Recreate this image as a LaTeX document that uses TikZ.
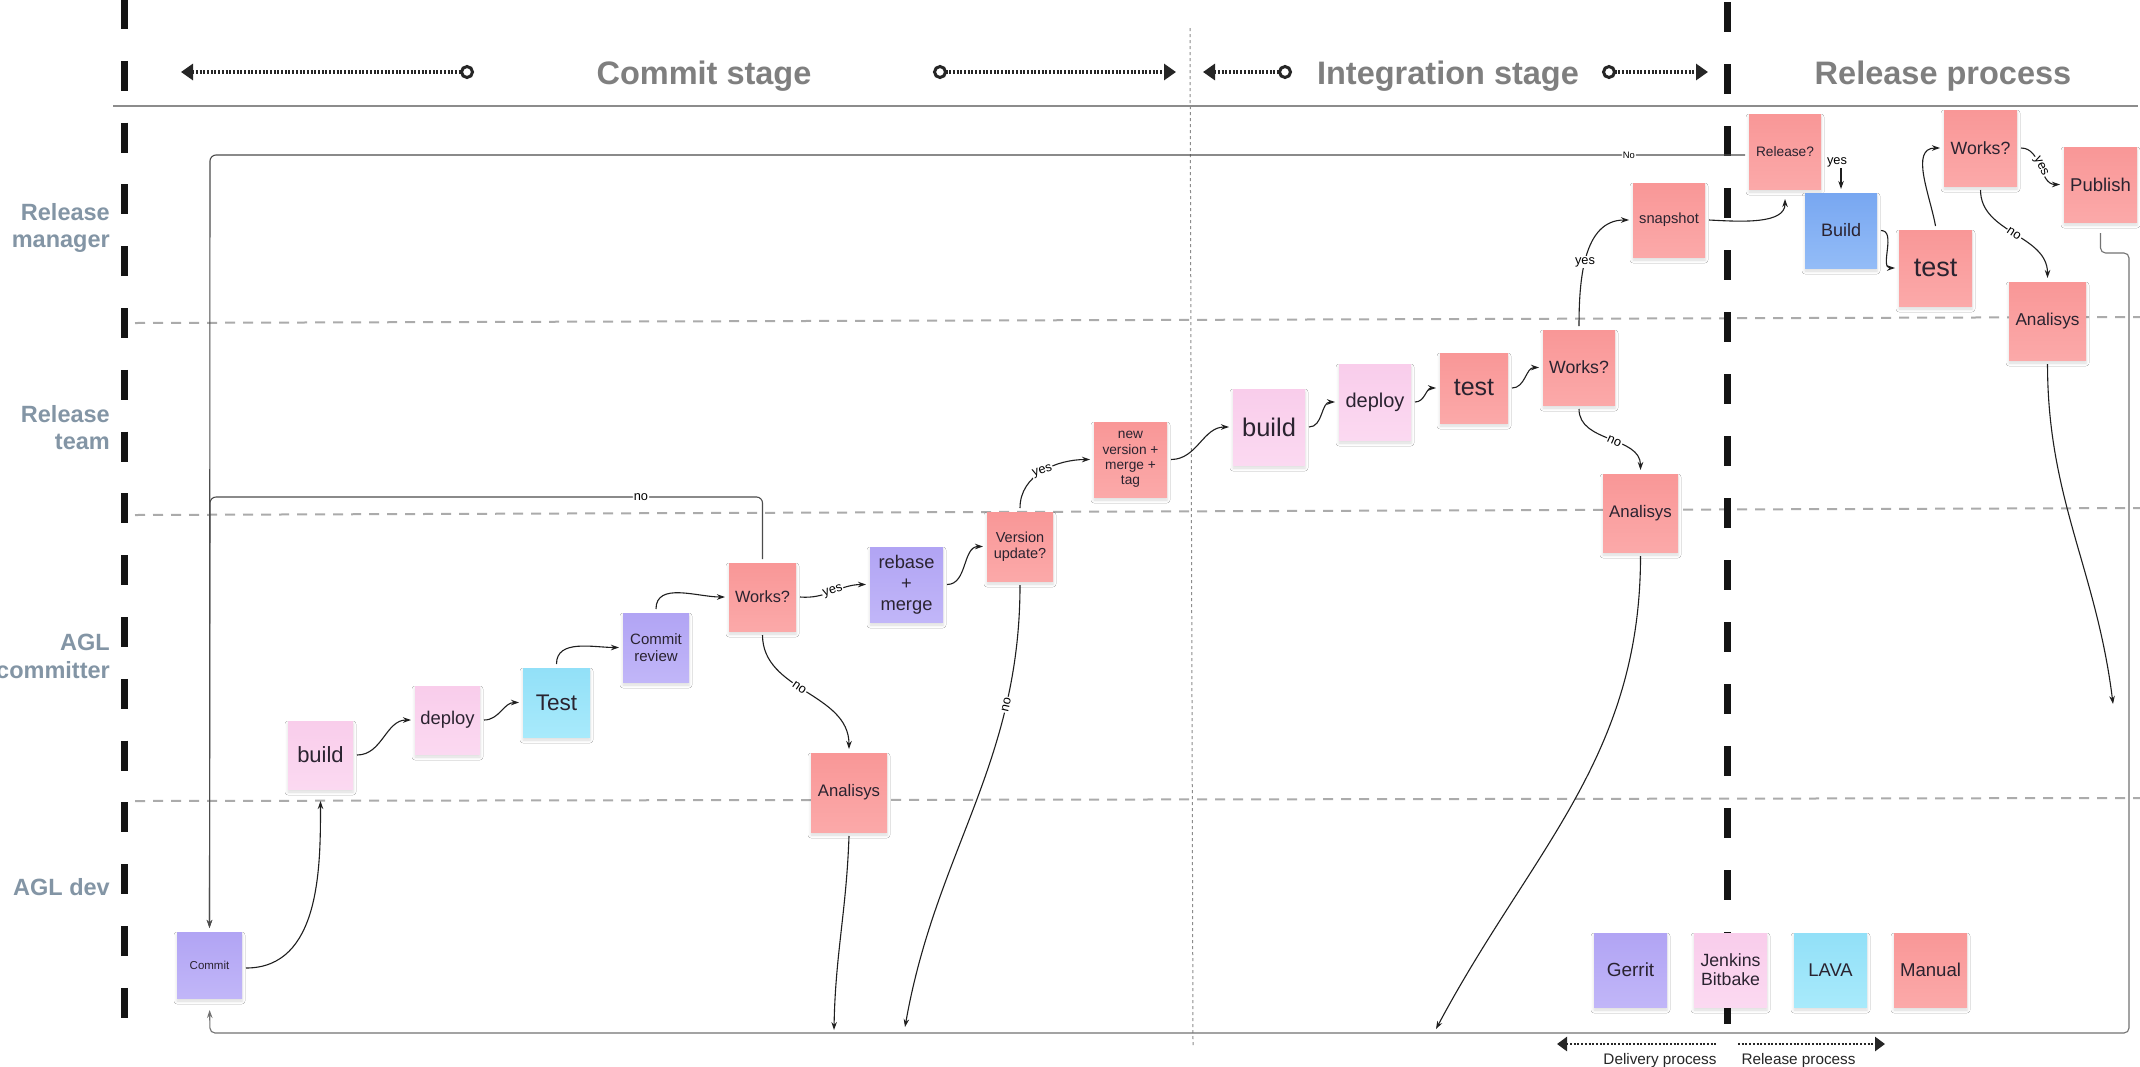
\documentclass[tikz,border=0pt]{standalone}
\usepackage{fontspec}
\setmainfont{Liberation Sans}
\usetikzlibrary{arrows.meta, shadows.blur, calc}

\definecolor{salmonT}{HTML}{F99797}
\definecolor{salmonB}{HTML}{FBA9A9}
\definecolor{pinkT}{HTML}{F9CDEB}
\definecolor{pinkB}{HTML}{FBD9F1}
\definecolor{lavT}{HTML}{B1A4F4}
\definecolor{lavB}{HTML}{C1B6F8}
\definecolor{cyanT}{HTML}{92E0F8}
\definecolor{cyanB}{HTML}{A8EAFB}
\definecolor{blueT}{HTML}{78A7F1}
\definecolor{blueB}{HTML}{93BCF7}
\definecolor{hdr}{HTML}{7F7F7F}
\definecolor{lanecol}{HTML}{8395A5}
\definecolor{ink}{HTML}{2A2330}

\begin{document}
\begin{tikzpicture}[x=1pt, y=-1pt,
  note/.style={rectangle, inner sep=1pt, outer sep=4pt, align=center, text=ink,
    blur shadow={shadow xshift=0pt, shadow yshift=-3pt, shadow blur radius=3pt, shadow opacity=14}},
  salmonbox/.style={note, top color=salmonT, bottom color=salmonB},
  pinkbox/.style={note, top color=pinkT, bottom color=pinkB},
  lavbox/.style={note, top color=lavT, bottom color=lavB},
  cyanbox/.style={note, top color=cyanT, bottom color=cyanB},
  bluebox/.style={note, top color=blueT, bottom color=blueB},
  sz/.style 2 args={minimum width=#1pt, minimum height=#2pt},
  fs/.style 2 args={font=\fontsize{#1}{#2}\selectfont},
  tip/.style={-{Stealth[length=8pt, width=5.5pt]}},
  conn/.style={draw=black!88, line width=1.1pt, tip},
  loopline/.style={draw=black!70, line width=1.1pt, tip, rounded corners=6pt},
  retline/.style={draw=black!55, line width=1.1pt, tip, rounded corners=5pt},
  lbl/.style={fill=white, inner sep=1pt, text=black, font=\fontsize{12.8}{13}\selectfont},
  hdrtext/.style={text=hdr, font=\fontsize{32.5}{36}\selectfont\bfseries, inner sep=0pt},
  lanetext/.style={text=lanecol, font=\fontsize{23.5}{27.5}\selectfont\bfseries, align=right, inner sep=0pt, anchor=north east},
  hdrarrow/.style={draw=black!85, line width=3.2pt, dash pattern=on 2pt off 1.7pt},
  headring/.style={arrows={Triangle[length=12pt, width=16pt]-Circle[open, length=14pt, width=14pt, line width=3pt]}},
  ringhead/.style={arrows={Circle[open, length=14pt, width=14pt, line width=3pt]-Triangle[length=12pt, width=16pt]}},
  laneline/.style={draw=black!33, line width=2pt, dash pattern=on 10pt off 8pt},
  lanewall/.style={draw=black!92, line width=7pt},
  divider/.style={draw=black!45, line width=1pt, dash pattern=on 3pt off 3pt}
]
\useasboundingbox (0,0) rectangle (2140,1066);
\fill[white] (0,0) rectangle (2140,1066);

% ---------- frame: lanes, stage dividers, header rule ----------
\draw[laneline] (135,323) -- (2140,317);
\draw[laneline] (135,515) -- (2140,508);
\draw[laneline] (135,801) -- (2140,798);
\draw[divider] (1190,28) -- (1193,1045);
\draw[line width=2pt, draw=black!45] (113,106) -- (2138,106);
\draw[lanewall, dash pattern=on 30pt off 31.8pt] (124,-1) -- (124,1021);
\draw[lanewall, dash pattern=on 30pt off 32pt] (1727,2) -- (1727,1025);

% ---------- header ----------
\node[hdrtext, anchor=base] (hCommit) at (704,84) {Commit stage};
\node[hdrtext, anchor=base] (hInteg) at (1448,84) {Integration stage};
\node[hdrtext, anchor=base] (hRelease) at (1943,84) {Release process};

\coordinate (cL1) at (181,72);  \coordinate (cL2) at (474,72);
\coordinate (cR1) at (933,72);  \coordinate (cR2) at (1176,72);
\coordinate (iL1) at (1203,72); \coordinate (iL2) at (1292,72);
\coordinate (iR1) at (1602,72); \coordinate (iR2) at (1708,72);
\draw[hdrarrow, headring] (cL1) -- (cL2);
\draw[hdrarrow, ringhead] (cR1) -- (cR2);
\draw[hdrarrow, headring] (iL1) -- (iL2);
\draw[hdrarrow, ringhead] (iR1) -- (iR2);

% ---------- lane labels ----------
\node[lanetext] (lRM) at (110,203) {Release\\manager};
\node[lanetext] (lRT) at (110,405) {Release\\team};
\node[lanetext] (lAC) at (110,634) {AGL\\committer};
\node[lanetext] (lAD) at (110,878) {AGL dev};

% ---------- commit stage ----------
\node[lavbox, sz={65}{66}, fs={11.5}{13}] (commit) at (209.5,965) {Commit};
\node[pinkbox, sz={65}{68}, fs={22}{24}] (build1) at (320.5,755) {build};
\node[pinkbox, sz={65}{68}, fs={18.4}{20}] (deploy1) at (447.5,720) {deploy};
\node[cyanbox, sz={67}{69}, fs={22.6}{24}] (test1) at (556.5,702.5) {Test};
\node[lavbox, sz={66}{69}, fs={15}{16.7}] (review) at (656,647.5) {Commit\\review};
\node[salmonbox, sz={67}{68}, fs={16.3}{18}] (works1) at (762.5,597) {Works?};
\node[lavbox, sz={73}{75}, fs={18.3}{20.8}] (rebase) at (906.5,584.5) {rebase\\+\\merge};
\node[salmonbox, sz={66}{69}, fs={14.5}{15.7}] (version) at (1020,546.5) {Version\\update?};
\node[salmonbox, sz={73}{75}, fs={13.7}{15.3}] (newver) at (1130.5,459.5) {new\\version +\\merge +\\tag};
\node[salmonbox, sz={76}{79}, fs={16.7}{18}] (analysis1) at (849,792.5) {Analisys};

% ---------- integration stage ----------
\node[pinkbox, sz={72}{76}, fs={25.5}{27}] (build2) at (1269,427) {build};
\node[pinkbox, sz={72}{76}, fs={20}{22}] (deploy2) at (1375,402) {deploy};
\node[salmonbox, sz={68}{70}, fs={25}{27}] (test2) at (1474,388) {test};
\node[salmonbox, sz={72}{75}, fs={17.7}{19}] (works2) at (1579,367.5) {Works?};
\node[salmonbox, sz={72}{74}, fs={14.7}{16}] (snapshot) at (1669,220) {snapshot};
\node[salmonbox, sz={75}{78}, fs={16.8}{18}] (analysis2) at (1640.5,513) {Analisys};

% ---------- release process ----------
\node[salmonbox, sz={72}{75}, fs={13.7}{15}] (release) at (1785,151.5) {Release?};
\node[bluebox, sz={72}{75}, fs={18}{20}] (buildR) at (1841,230.5) {Build};
\node[salmonbox, sz={73}{76}, fs={27}{29}] (testR) at (1935.5,268) {test};
\node[salmonbox, sz={73}{76}, fs={17.7}{19}] (worksR) at (1980.5,148) {Works?};
\node[salmonbox, sz={73}{75}, fs={18.5}{20}] (publish) at (2100.5,184.5) {Publish};
\node[salmonbox, sz={77}{78}, fs={17.2}{19}] (analysisR) at (2047.5,321) {Analisys};

% ---------- tool legend ----------
\node[lavbox, sz={73}{74}, fs={19}{21}] (gerrit) at (1630.5,970) {Gerrit};
\node[pinkbox, sz={73}{74}, fs={17.7}{19.3}] (jenkins) at (1730.5,970) {Jenkins\\Bitbake};
\node[cyanbox, sz={73}{74}, fs={18.4}{20}] (lava) at (1830.5,970) {LAVA};
\node[salmonbox, sz={73}{74}, fs={18.6}{20}] (manual) at (1930.5,970) {Manual};

\coordinate (dL1) at (1557,1044); \coordinate (dL2) at (1717,1044);
\coordinate (rR1) at (1738,1044); \coordinate (rR2) at (1885,1044);
\draw[hdrarrow, line width=2.6pt, arrows={Triangle[length=10pt, width=14pt]-}] (dL1) -- (dL2);
\draw[hdrarrow, line width=2.6pt, arrows={-Triangle[length=10pt, width=14pt]}] (rR1) -- (rR2);
\node[fs={15.3}{16}, text=black!85, anchor=base, inner sep=0pt] (tDel) at (1660,1064) {Delivery process};
\node[fs={15.3}{16}, text=black!85, anchor=base, inner sep=0pt] (tRel) at (1798.5,1064) {Release process};

% ---------- loop and return lines ----------
\coordinate (loopTop) at (210,155);
\coordinate (loopMid) at (210,497);
\coordinate (botL) at (210,1033);
\coordinate (botR) at (2129,1033);
\coordinate (pubCorner) at (2129,253);
\coordinate (in1) at (834,1030);
\coordinate (in2) at (905,1027);
\coordinate (in3) at (1436,1029);
\coordinate (inR) at (2113,704);

\draw[loopline] ([yshift=-3.5pt]release.west) -- node[lbl, fs={9.4}{10}, pos=0.0756] {No} (loopTop) -- (commit.north);
\draw[loopline] (works1.north) |- node[lbl, pos=0.61] {no} (loopMid) -- (commit.north);
\draw[retline, shorten <=7pt, shorten >=8pt] (publish.south) -- (publish.south |- pubCorner) -- (pubCorner) -- (botR) -- (botL) -- (commit.south);

% ---------- commit stage flow ----------
\draw[conn, shorten >=8pt] ([yshift=-3pt]commit.east) to[out=0, in=-90] (build1.south);
\draw[conn] (build1.east) to[out=0, in=180] (deploy1.west);
\draw[conn] (deploy1.east) to[out=0, in=180] (test1.west);
\draw[conn] (test1.north) to[out=90, in=180] (review.west);
\draw[conn] (review.north) to[out=90, in=180] (works1.west);
\draw[conn] (works1.east) to[out=-5, in=180] node[lbl, sloped] {yes} (rebase.west);
\draw[conn] (rebase.east) to[out=0, in=180] (version.west);
\draw[conn] (version.north) to[out=90, in=180] node[lbl, rotate=18, pos=0.5] {yes} (newver.west);
\draw[conn] (works1.south) to[out=-90, in=90] node[lbl, sloped, pos=0.45] {no} (analysis1.north);
\draw[conn] (version.south) to[out=-90, in=80] node[lbl, sloped, pos=0.25] {no} (in2);
\draw[conn] (analysis1.south) to[out=-92, in=89] (in1);
\draw[conn] (newver.east) to[out=0, in=180] (build2.west);

% ---------- integration stage flow ----------
\draw[conn] (build2.east) to[out=0, in=180] (deploy2.west);
\draw[conn] (deploy2.east) to[out=0, in=180] (test2.west);
\draw[conn] (test2.east) to[out=0, in=180] (works2.west);
\draw[conn] (works2.north) to[out=90, in=180] node[lbl, pos=0.45] {yes} (snapshot.west);
\draw[conn] (works2.south) to[out=-90, in=90] node[lbl, sloped, pos=0.55] {no} (analysis2.north);
\draw[conn] (analysis2.south) to[out=-90, in=62] (in3);

% ---------- release flow ----------
\draw[conn, shorten >=6pt] (snapshot.east) to[out=-3, in=-90] (release.south);
\draw[conn] ($(buildR.north)+(0,-21)$) node[lbl, fill=none, above left, inner sep=0.5pt, xshift=7pt] {yes} -- (buildR.north);
\draw[conn] (buildR.east) to[out=0, in=180] (testR.west);
\draw[conn] (testR.north) to[out=100, in=180] (worksR.west);
\draw[conn] (worksR.east) to[out=0, in=180] node[lbl, sloped, pos=0.5] {yes} (publish.west);
\draw[conn] (worksR.south) to[out=-90, in=90] node[lbl, sloped, pos=0.5] {no} (analysisR.north);
\draw[conn] (analysisR.south) to[out=-90, in=97] (inR);
\end{tikzpicture}
\end{document}
